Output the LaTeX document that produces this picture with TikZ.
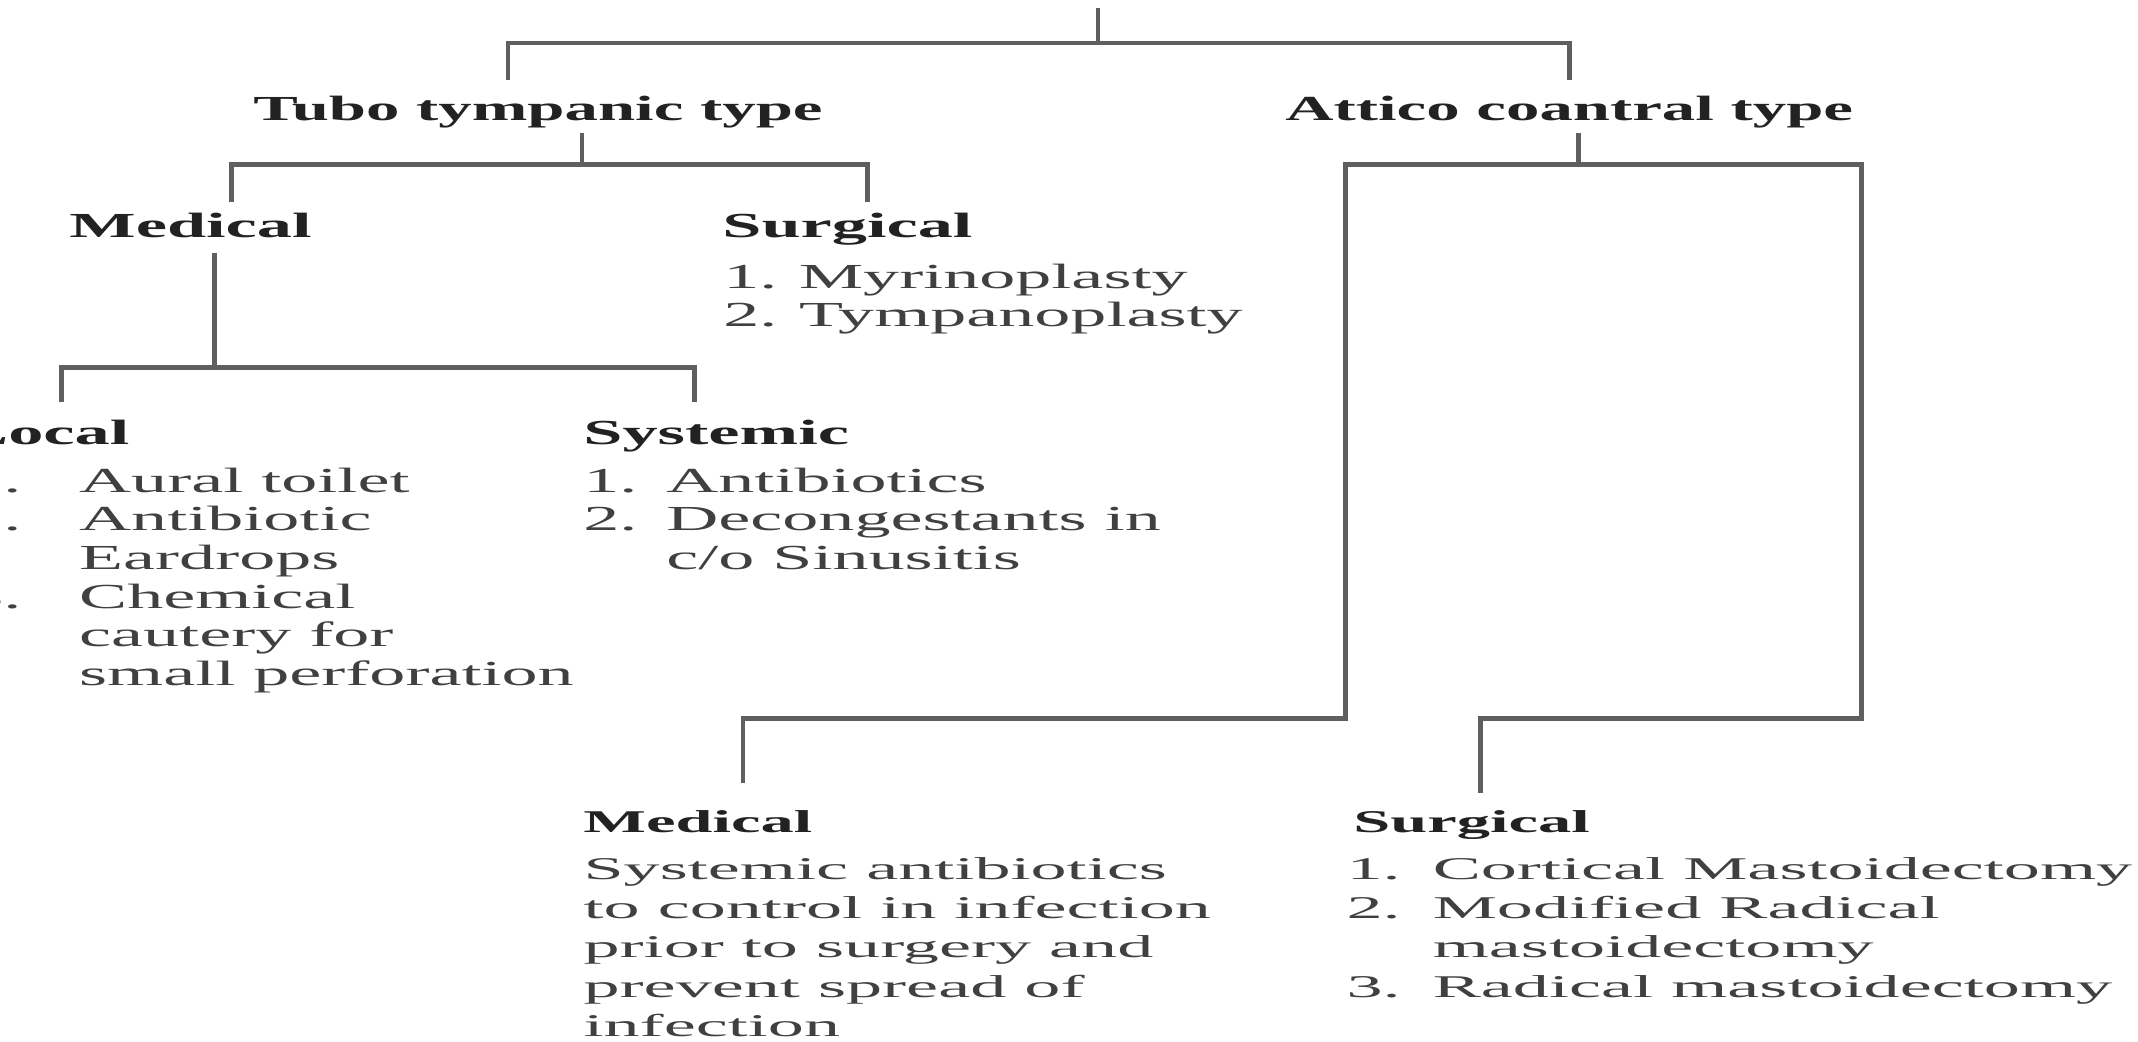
\documentclass[tikz,border=0pt]{standalone}
\usepackage{fontspec}
\setmainfont{Liberation Serif}

\definecolor{linegray}{HTML}{5f5f5f}
\definecolor{headink}{HTML}{222222}
\definecolor{bodyink}{HTML}{404040}

\tikzstyle{typebox} = [anchor=base west, inner sep=0pt, text height=7pt, text depth=2pt, text=headink, font=\fontsize{10}{11}\selectfont\bfseries, xscale=1.9]
\tikzstyle{headbox} = [anchor=base west, inner sep=0pt, text height=7pt, text depth=2pt, text=headink, font=\fontsize{10}{11}\selectfont\bfseries, xscale=2.0]
\tikzstyle{listbox} = [anchor=base west, inner sep=0pt, text=bodyink, font=\fontsize{10}{11}\selectfont, xscale=2.05]
\tikzstyle{lowhead} = [anchor=base west, inner sep=0pt, text height=7pt, text depth=2pt, text=headink, font=\fontsize{9}{11.2}\selectfont\bfseries, xscale=2.1]
\tikzstyle{lowlist} = [anchor=base west, inner sep=0pt, text=bodyink, font=\fontsize{9}{11.2}\selectfont, xscale=2.28]
\tikzstyle{link} = [draw=linegray, line width=1.3pt]

\begin{document}
\begin{tikzpicture}[x=0.01cm, y=-0.01cm]

	\fill [white] (0,0) rectangle (2138,1041);
	\useasboundingbox (0,0) rectangle (2138,1041);

	\coordinate (title) at (1098,8);
	\node (tubo) [typebox] at (252,120) {Tubo tympanic type};
	\node (attico) [typebox] at (1284,120) {Attico coantral type};

	\node (medA) [headbox] at (68,237) {Medical};
	\node (surgA) [headbox] at (721,237) {Surgical};
	\node (surgAlist) [listbox] at (722,288) {\begin{tabular}[t]{@{}l@{\hspace{3pt}}l@{}}1. & Myrinoplasty\\ 2. & Tympanoplasty\end{tabular}};

	\node (local) [headbox] at (-40,444) {Local};
	\node (locallist) [listbox] at (-34,492) {\begin{tabular}[t]{@{}l@{\hspace{8pt}}l@{}}1. & Aural toilet\\ 2. & Antibiotic\\ & Eardrops\\ 3. & Chemical\\ & cautery for\\ & small perforation\end{tabular}};
	\node (syst) [headbox] at (582,444) {Systemic};
	\node (systlist) [listbox] at (582,492) {\begin{tabular}[t]{@{}l@{\hspace{4pt}}l@{}}1. & Antibiotics\\ 2. & Decongestants in\\ & c/o Sinusitis\end{tabular}};

	\node (medB) [lowhead] at (582,832) {Medical};
	\node (medBtext) [lowlist] at (582,879) {\begin{tabular}[t]{@{}l@{}}Systemic antibiotics\\ to control in infection\\ prior to surgery and\\ prevent spread of\\ infection\end{tabular}};
	\node (surgB) [lowhead] at (1352,832) {Surgical};
	\node (surgBlist) [lowlist] at (1345,879) {\begin{tabular}[t]{@{}l@{\hspace{4pt}}l@{}}1. & Cortical Mastoidectomy\\ 2. & Modified Radical\\ & mastoidectomy\\ 3. & Radical mastoidectomy\end{tabular}};

	%links
	\draw [link, shorten >=0.15cm] (title) -- ++(0,35) -| ([xshift=-0.3cm]tubo.north);
	\draw [link, shorten >=0.15cm] (title) -- ++(0,35) -| (attico.north);
	\draw [link, shorten <=0.05cm, shorten >=0.10cm] ([xshift=0.44cm]tubo.south) -- ++(0,37) -| ([xshift=0.41cm]medA.north);
	\draw [link, shorten <=0.05cm, shorten >=0.10cm] ([xshift=0.44cm]tubo.south) -- ++(0,37) -| ([xshift=0.20cm]surgA.north);
	\draw [link, shorten <=0.08cm, shorten >=0.17cm] ([xshift=0.24cm]medA.south) -- ++(0,123) -| ([xshift=0.16cm]local.north);
	\draw [link, shorten <=0.08cm, shorten >=0.17cm] ([xshift=0.24cm]medA.south) -- ++(0,123) -| ([xshift=-0.22cm]syst.north);
	\draw [link, shorten <=0.05cm, shorten >=0.24cm] ([xshift=0.09cm]attico.south) -- ++(0,37) -- ++(-233,0) -- ++(0,554) -| ([xshift=0.45cm]medB.north);
	\draw [link, shorten <=0.05cm, shorten >=0.14cm] ([xshift=0.09cm]attico.south) -- ++(0,37) -- ++(283,0) -- ++(0,554) -| ([xshift=0.09cm]surgB.north);

\end{tikzpicture}
\end{document}
